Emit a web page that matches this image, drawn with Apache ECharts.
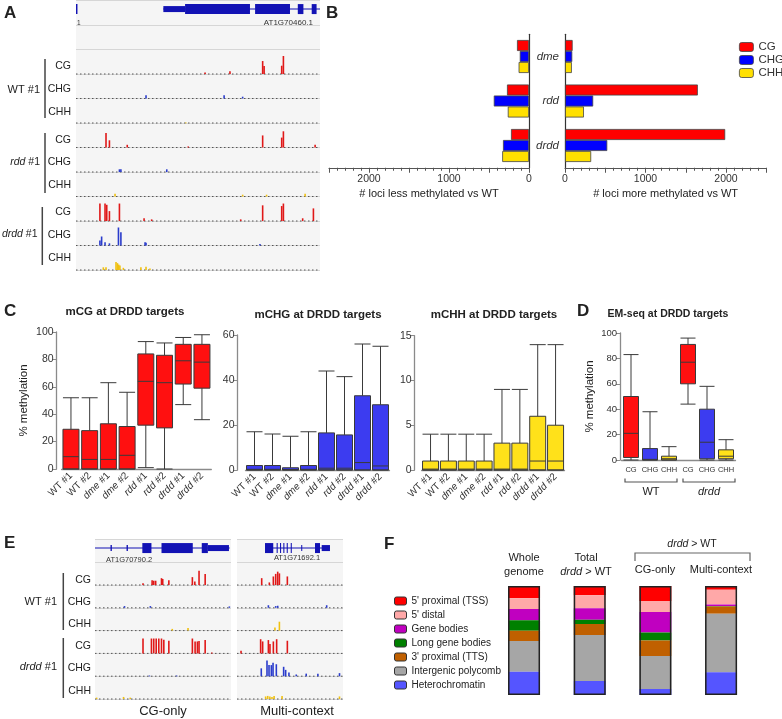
<!DOCTYPE html>
<html><head><meta charset="utf-8">
<script src="https://cdn.jsdelivr.net/npm/echarts@6/dist/echarts.min.js"></script>
<style>html,body{margin:0;padding:0;background:#fff}#c{width:782px;height:719px}</style>
</head><body><div id="c"></div>
<script>
// ================= DATA =================
// Panel A – genome browser tracks: [position % along locus, signal height %]
const aWtCG    = [[52.9,9],[63.1,15],[76.5,72],[77.1,45],[84.3,46],[85,100]];
const aWtCHG   = [[28.7,18],[60.7,18],[68.3,10]];
const aWtCHH   = [[45,3]];
const aRddCG   = [[12.3,80],[13.7,40],[21,15],[46,6],[76.5,67],[84.3,55],[85,90],[98,15]];
const aRddCHG  = [[17.8,15],[18.4,15],[37.2,15]];
const aRddCHH  = [[16,15],[68.3,10],[78.1,10],[93.9,15]];
const aDrddCG  = [[9.8,97],[11.9,97],[12.6,90],[13.7,55],[17.8,97],[27.9,15],[31,9],[67.5,9],[76.5,87],[84.3,83],[85,97],[92.9,15],[97.3,70]];
const aDrddCHG = [[9.8,28],[10.5,50],[11.9,18],[13.7,12],[17.4,100],[18.4,73],[28.3,18],[28.7,15],[75.4,8]];
const aDrddCHH = [[11.2,15],[12.3,15],[16.4,45],[17,38],[17.5,30],[18,25],[19.4,12],[26.6,15],[28.7,18],[30.3,9]];
// gene model AT1G70460.1: [start %, end %, kind (0 intron,1 UTR,2 CDS)]
const geneA = [[35.8,100,0],[0,0.6,2],[35.8,44.7,1],[44.7,71.3,2],[73.4,87.7,2],[90.9,93.2,2],[96.6,98.6,2]];

// Panel B – number of DMRs
const bGenotypes = ['dme','rdd','drdd'];
const bContexts = ['CG','CHG','CHH'];
const lessCG  = [150,275,225];
const lessCHG = [115,440,325];
const lessCHH = [130,265,335];
const moreCG  = [95,1650,1990];
const moreCHG = [90,350,525];
const moreCHH = [85,235,325];

// Panel C – boxplots [min, Q1, median, Q3, max]
const cSamples = ['WT #1','WT #2','dme #1','dme #2','rdd #1','rdd #2','drdd #1','drdd #2'];
const cgBoxes  = [[0,0,9,29,52],[0,0,7,28,52],[0,0,7,33,63],[0,0,10,31,56],[1,32,64,84,93],[0,30,63,83,92],[47,62,79,91,96],[36,59,78,91,98]];
const chgBoxes = [[0,0,0.3,2,17],[0,0,0.3,2,16],[0,0,0.2,1,15],[0,0,0.3,2,17],[0,0,0.8,16.5,44],[0,0,0.8,15.6,41.5],[0,0,3.3,33,56],[0,0,1.8,29,55]];
const chhBoxes = [[0,0,0.1,1,4],[0,0,0.1,1,4],[0,0,0.1,1,4],[0,0,0.1,1,4],[0,0,0.1,3,9],[0,0,0.1,3,9],[0,0,1,6,14],[0,0,1,5,14]];

// Panel D – EM-seq boxplots
const dGroups = ['WT','drdd'];
const dContexts = ['CG','CHG','CHH'];
const dBoxes = [[0,2,21,50,83],[0,0,0.5,9,38],[0,0,1,3,10.5],[44,60,77,91,96],[0,1,14,40,58],[0,1,3,8,16]];

// Panel E – browser tracks
const eLWtCG    = [[35.3,10],[42,28],[43.2,25],[44.6,25],[48.9,40],[49.8,35],[54.3,28],[71.6,46],[73.4,20],[76.5,83],[81,65]];
const eLWtCHG   = [[21.7,10],[40.7,10],[98.8,8]];
const eLWtCHH   = [[56.8,10],[68.4,15]];
const eLDrddCG  = [[35.3,87],[41.5,87],[43.2,87],[45,87],[46.9,87],[48.9,87],[50.6,80],[54.3,74],[71.6,87],[73.6,70],[75.3,70],[76.5,72],[81,78],[85.9,5]];
const eLDrddCHG = [[40,4],[60,4]];
const eLDrddCHH = [[1.2,8],[21,12],[25.9,8]];
const eRWtCG    = [[23.3,40],[30.5,15],[34.3,50],[36.5,65],[38.4,78],[40,68],[47.5,50]];
const eRWtCHG   = [[29.6,15],[36.5,10],[38.4,12],[84.6,15]];
const eRWtCHH   = [[35.8,18],[40,52]];
const eRDrddCG  = [[3.8,15],[22.3,83],[24.2,70],[29.6,78],[31.1,55],[34.3,70],[37.4,83],[47.5,74]];
const eRDrddCHG = [[22.9,46],[28.3,92],[30.2,65],[32.4,65],[34,78],[37.1,70],[44,55],[45.9,37],[49,22],[55.9,10],[65.3,15],[76.3,15],[96.7,18]];
const eRDrddCHH = [[27,15],[29,18],[31,15],[33,12],[35,18],[42.5,18],[96.7,15]];
const geneEL = [[0,99,0],[11.4,12.4,1],[23.2,24.2,1],[34.8,41.5,2],[48.9,71.9,2],[78.5,83,2],[83,98.5,1]];
const geneER = [[26.4,87.7,0],[26.4,34.2,2],[37.4,38.4,2],[40.6,41.6,2],[43.7,44.7,2],[46.9,47.9,2],[50.7,51.7,2],[60.6,61.4,1],[73.6,78.3,2],[79.9,87.7,1]];

// Panel F – genomic distribution (%)
const fGroups = ['Whole genome','Total drdd > WT','CG-only','Multi-context'];
const fNames = ["5' proximal (TSS)","5' distal","Gene bodies","Long gene bodies","3' proximal (TTS)","Intergenic polycomb","Heterochromatin"];
const fTSS    = [11.3, 8.6,13.8, 3.4];
const fDistal = [ 9.8,11.9,10.1,13.5];
const fGene   = [10.4,10.4,18.7, 1.5];
const fLong   = [ 9.5, 4.0, 7.3, 0.3];
const fTTS    = [ 9.5,10.1,14.4, 6.7];
const fPoly   = [28.1,42.2,30.2,53.8];
const fHet    = [21.4,12.8, 5.5,20.8];

// ================= STYLE / BUILD =================
const FONT = 'Liberation Sans, Arial, Helvetica, sans-serif';
const RED = '#ff0000', BLUE = '#0000ff', YEL = '#ffe000';
const C_RED = '#ff1010', C_BLUE = '#3c3cf0', C_YEL = '#ffe11a';
const TR_COL = ['#e01818', '#2a3ccc', '#f0c010'];
const fColors = ['#ff0000','#ffa8a8','#c000c0','#008000','#c06000','#a6a6a6','#5555ff'];
const XMIN = 0, XMAX = 100;

function spikeItem(scale){
  return function(params, api){
    const x = api.value(0), row = api.value(1), h = api.value(2);
    const b = api.coord([x, row]), t = api.coord([x, row - h/100*scale]);
    return {type:'rect', shape:{x:b[0]-0.8, y:t[1], width:1.6, height:Math.max(0.8, b[1]-t[1])},
      style:{fill: api.visual('color')}};
  };
}
function baseItem(params, api){
  const a = api.coord([api.value(0), api.value(1)]), b = api.coord([api.value(2), api.value(1)]);
  return {type:'line', shape:{x1:a[0], y1:a[1], x2:b[0], y2:b[1]},
    style:{stroke:'#555', lineWidth:1, lineDash:[1.5,2.5]}};
}
function geneItem(rowC){
  return function(params, api){
    const s = api.value(0), e = api.value(1), k = api.value(2);
    const a = api.coord([s, rowC]), b = api.coord([e, rowC]);
    const hh = [1, 6, 10][k];
    return {type:'rect', shape:{x:a[0], y:a[1]-hh/2, width:Math.max(1, b[0]-a[0]), height:hh},
      style:{fill:'#1212b4'}};
  };
}

const series = [];
function addTracks(tracks, firstRow, axisIdx, scale){
  tracks.forEach(function(tr, i){
    const row = firstRow + i;
    series.push({type:'custom', silent:true, xAxisIndex:axisIdx, yAxisIndex:axisIdx,
      renderItem: baseItem, data:[[XMIN, row, XMAX]], z:2});
    series.push({type:'custom', silent:true, xAxisIndex:axisIdx, yAxisIndex:axisIdx,
      itemStyle:{color: TR_COL[i % 3]},
      renderItem: spikeItem(scale), data: tr.map(function(p){return [p[0], row, p[1]];}), z:3});
  });
}
function addGene(gene, axisIdx, rowC){
  series.push({type:'custom', silent:true, xAxisIndex:axisIdx, yAxisIndex:axisIdx,
    renderItem: geneItem(rowC), data: gene, z:3});
}

// Panel A
addTracks([aWtCG,aWtCHG,aWtCHH,aRddCG,aRddCHG,aRddCHH,aDrddCG,aDrddCHG,aDrddCHH], 3, 0, 0.735);
addGene(geneA, 0, 0.35);
// Panel E
addTracks([eLWtCG,eLWtCHG,eLWtCHH,eLDrddCG,eLDrddCHG,eLDrddCHH], 2, 7, 0.75);
addTracks([eRWtCG,eRWtCHG,eRWtCHH,eRDrddCG,eRDrddCHG,eRDrddCHH], 2, 8, 0.75);
addGene(geneEL, 7, 0.38);
addGene(geneER, 8, 0.38);

// Panel B
const bLess = [lessCG, lessCHG, lessCHH], bMore = [moreCG, moreCHG, moreCHH], bCol = [RED, BLUE, YEL];
[[bLess,1],[bMore,2]].forEach(function(pair){
  pair[0].forEach(function(vals, i){
    series.push({type:'bar', name:bContexts[i], xAxisIndex:pair[1], yAxisIndex:pair[1], data:vals,
      barWidth:11, barGap:'0%', silent:true,
      itemStyle:{color:bCol[i], borderColor:'#444', borderWidth:0.8}});
  });
});

// Panel C
[[cgBoxes,3,C_RED],[chgBoxes,4,C_BLUE],[chhBoxes,5,C_YEL]].forEach(function(b){
  series.push({type:'boxplot', xAxisIndex:b[1], yAxisIndex:b[1], data:b[0], boxWidth:[16,16], silent:true,
    itemStyle:{color:b[2], borderColor:'#3a3a3a', borderWidth:1}});
});
// Panel D
const dCats = [], dData = [];
const dCol = [C_RED, C_BLUE, C_YEL];
dGroups.forEach(function(g, gi){ dContexts.forEach(function(c, ci){
  dCats.push(g + '|' + c);
  dData.push({value: dBoxes[gi*3+ci], itemStyle:{color:dCol[ci]}});
});});
series.push({type:'boxplot', xAxisIndex:6, yAxisIndex:6, data:dData, boxWidth:[15,15], silent:true,
  itemStyle:{borderColor:'#3a3a3a', borderWidth:1}});

// Panel F
const fSeries = [fTSS,fDistal,fGene,fLong,fTTS,fPoly,fHet];
fSeries.forEach(function(vals, i){
  series.push({type:'bar', name:fNames[i], stack:'f', xAxisIndex:9, yAxisIndex:9, data:vals,
    barWidth:32, barGap:'-100%', silent:true, itemStyle:{color:fColors[i]}});
});
const fTotals = fGroups.map(function(_, j){ return fSeries.reduce(function(s, a){ return s + a[j]; }, 0); });
series.push({type:'bar', name:'outline', xAxisIndex:9, yAxisIndex:9, data:fTotals, barWidth:32, barGap:'-100%',
  silent:true, z:5, itemStyle:{color:'rgba(0,0,0,0)', borderColor:'#222', borderWidth:1.5}});

// ---------- axes ----------
const hid = {show:false};
function trackX(g){ return {gridIndex:g, type:'value', min:XMIN, max:XMAX, show:false}; }
function trackY(g, rows){ return {gridIndex:g, type:'value', inverse:true, min:0, max:rows, interval:1,
  axisLine:hid, axisTick:hid, axisLabel:hid, splitLine:{show:true, lineStyle:{color:'#d6d6d6', width:1}}}; }
const axisGray = {lineStyle:{color:'#8a8a8a', width:1.3}};
function bX(g, inv, name){ return {gridIndex:g, type:'value', min:0, max:2500, interval:500, inverse:inv,
  axisLine:{show:true, lineStyle:{color:'#555', width:1.2}}, axisTick:{show:true, length:5, lineStyle:{color:'#555'}},
  minorTick:{show:true, splitNumber:5, length:3, lineStyle:{color:'#555'}},
  splitLine:hid, minorSplitLine:hid,
  axisLabel:{fontSize:10.5, color:'#333', margin:6, formatter:function(v){return v % 1000 === 0 ? String(v) : '';}},
  name:name, nameLocation:'middle', nameGap:21, nameTextStyle:{fontSize:11, color:'#222'}}; }
function catLabel(v){ return v.replace(/^(dme|rdd|drdd)/, '{i|$1}'); }
function cX(g){ return {gridIndex:g, type:'category', data:cSamples, axisLine:axisGray,
  axisTick:{show:false},
  axisLabel:{interval:0, rotate:45, fontSize:10, color:'#333', margin:5, formatter:catLabel,
    rich:{i:{fontStyle:'italic', fontSize:10, color:'#333'}}}}; }
function cY(g, max, iv, off, name){ return {gridIndex:g, type:'value', min:0, max:max, interval:iv, offset:off,
  axisLine:{show:true, lineStyle:{color:'#8a8a8a', width:1.3}}, axisTick:{show:true, length:4, lineStyle:{color:'#8a8a8a'}},
  splitLine:hid, axisLabel:{fontSize:10.5, color:'#333', margin:3},
  name:name || '', nameLocation:'middle', nameGap:27, nameTextStyle:{fontSize:11.5, color:'#222'}}; }

const option = {
  animation:false,
  textStyle:{fontFamily:FONT},
  grid:[
    {left:76, top:0.5, width:244, height:269.5, show:true, backgroundColor:'#f5f5f5', borderWidth:0},
    {left:329, top:34.25, width:200, height:133.5},
    {left:565, top:34.25, width:201.25, height:133.5},
    {left:61.6, top:332, width:149.7, height:137},
    {left:245.5, top:335, width:144, height:135},
    {left:421.6, top:335.7, width:142.9, height:134.3},
    {left:621.5, top:333, width:114, height:127},
    {left:95, top:539.4, width:136, height:159.6, show:true, backgroundColor:'#f5f5f5', borderWidth:0},
    {left:237, top:539.4, width:106, height:159.6, show:true, backgroundColor:'#f5f5f5', borderWidth:0},
    {left:491.2, top:586, width:262.7, height:109}
  ],
  xAxis:[
    trackX(0),
    bX(1, true, '# loci less methylated vs WT'),
    bX(2, false, '# loci more methylated vs WT'),
    cX(3), cX(4), cX(5),
    {gridIndex:6, type:'category', data:dCats, axisLine:axisGray, axisTick:{show:false},
      axisLabel:{interval:0, fontSize:7.5, color:'#333', margin:6, formatter:function(v){return v.split('|')[1];}}},
    trackX(7), trackX(8),
    {gridIndex:9, type:'category', data:fGroups, show:false}
  ],
  yAxis:[
    trackY(0, 11),
    {gridIndex:1, type:'category', data:bGenotypes, inverse:true, position:'right',
      axisLine:{lineStyle:{color:'#333', width:1.2}}, axisTick:hid, axisLabel:hid},
    {gridIndex:2, type:'category', data:bGenotypes, inverse:true, position:'left',
      axisLine:{lineStyle:{color:'#333', width:1.2}}, axisTick:hid,
      axisLabel:{fontStyle:'italic', fontSize:11.5, color:'#333', margin:6}},
    cY(3, 100, 20, 5, '% methylation'),
    cY(4, 60, 20, 8),
    cY(5, 15, 5, 7),
    Object.assign(cY(6, 100, 20, 1.5, '% methylation'), {axisLabel:{fontSize:9.5, color:'#333', margin:3}, nameGap:24}),
    trackY(7, 7), trackY(8, 7),
    {gridIndex:9, type:'value', inverse:true, min:0, max:100, show:false}
  ],
  legend:[
    {data:bContexts, orient:'vertical', left:734, top:36, itemWidth:14, itemHeight:9, itemGap:1,
      selectedMode:false, textStyle:{fontSize:11.5, color:'#333', lineHeight:12},
      itemStyle:{borderColor:'#444', borderWidth:0.8}},
    {data:fNames, orient:'vertical', left:389, top:590, itemWidth:12, itemHeight:8, itemGap:2,
      selectedMode:false, textStyle:{fontSize:10, color:'#222', lineHeight:12},
      itemStyle:{borderColor:'#333', borderWidth:1}}
  ],
  series:series
};

// ---------- annotations ----------
const IT = function(sz){ return {i:{fontStyle:'italic', fontSize:sz, fontFamily:FONT, fill:'#222'}}; };
function T(x, y, text, size, extra){
  const st = Object.assign({text:text, fontSize:size, fontFamily:FONT, fill:'#222',
    align:'center', verticalAlign:'middle', textAlign:'center', textVerticalAlign:'middle', rich:IT(size)}, extra || {});
  return {type:'text', x:x, y:y, silent:true, style:st, z:100};
}
function R(x, y, text, size, extra){ return T(x, y, text, size, Object.assign({align:'right', textAlign:'right'}, extra || {})); }
function L(x, y, text, size, extra){ return T(x, y, text, size, Object.assign({align:'left', textAlign:'left'}, extra || {})); }
function LN(x1, y1, x2, y2, w, c){ return {type:'line', silent:true, z:100, shape:{x1:x1, y1:y1, x2:x2, y2:y2}, style:{stroke:c || '#444', lineWidth:w || 1.5}}; }
function PL(pts, c){ return {type:'polyline', silent:true, z:100, shape:{points:pts}, style:{stroke:c || '#555', fill:null, lineWidth:1.2}}; }
const B = {fontWeight:'bold'};
const els = [
  // panel letters
  L(4, 13, 'A', 17, B), L(326, 13, 'B', 17, B), L(4, 311, 'C', 17, B), L(577, 311, 'D', 17, B),
  L(4, 543, 'E', 17, B), L(384, 544, 'F', 17, B),
  // Panel A text
  L(77, 23, '1', 6.5, {fill:'#333'}), R(313, 23, 'AT1G70460.1', 8, {fill:'#333'}),
  R(71, 66.5, 'CG', 10.5), R(71, 89.5, 'CHG', 10.5), R(71, 112.5, 'CHH', 10.5),
  R(71, 140, 'CG', 10.5), R(71, 162.5, 'CHG', 10.5), R(71, 185.5, 'CHH', 10.5),
  R(71, 212.5, 'CG', 10.5), R(71, 235, 'CHG', 10.5), R(71, 258.5, 'CHH', 10.5),
  R(40, 89.5, 'WT #1', 11), R(40, 162, '{i|rdd} #1', 10.5), R(37.5, 234, '{i|drdd} #1', 10.5),
  LN(45, 59, 45, 118), LN(45, 133, 45, 193), LN(42.3, 207, 42.3, 265),
  // Panel C/D titles
  T(125, 312, 'mCG at DRDD targets', 11.5, B), T(318, 315, 'mCHG at DRDD targets', 11.5, B),
  T(494, 315, 'mCHH at DRDD targets', 11.5, B), T(668, 314, 'EM-seq at DRDD targets', 10.5, B),
  PL([[625,478.5],[625,482],[677,482],[677,478.5]]), PL([[683,478.5],[683,482],[735,482],[735,478.5]]),
  T(651, 492, 'WT', 11), T(709, 492, '{i|drdd}', 11),
  // Panel E text
  L(106, 560, 'AT1G70790.2', 7.5, {fill:'#333'}), T(297, 558, 'AT1G71692.1', 7.5, {fill:'#333'}),
  R(91, 580, 'CG', 10.5), R(91, 602, 'CHG', 10.5), R(91, 624.5, 'CHH', 10.5),
  R(91, 646.5, 'CG', 10.5), R(91, 668.5, 'CHG', 10.5), R(91, 691.5, 'CHH', 10.5),
  R(57, 602, 'WT #1', 11), R(57, 667, '{i|drdd} #1', 11),
  LN(63.3, 573, 63.3, 630), LN(63.3, 638, 63.3, 698),
  T(163, 711, 'CG-only', 13), T(297, 711, 'Multi-context', 13),
  // Panel F headers
  T(524, 558, 'Whole', 11), T(524, 572, 'genome', 11), T(586, 558, 'Total', 11), T(586, 572, '{i|drdd} > WT', 11),
  T(655, 570, 'CG-only', 11), T(721, 570, 'Multi-context', 11), T(692, 544, '{i|drdd} > WT', 10.5),
  PL([[635,561],[635,553],[750,553],[750,561]], '#666')
];
option.graphic = {elements: els};

const chart = echarts.init(document.getElementById('c'), null, {renderer:'canvas'});
chart.setOption(option);
</script></body></html>
